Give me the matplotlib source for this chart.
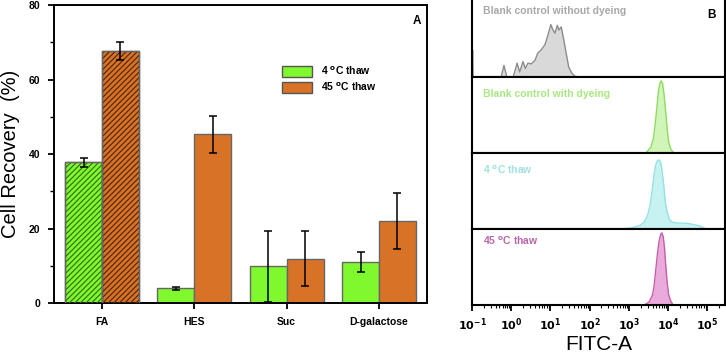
import matplotlib
matplotlib.use("Agg")
import matplotlib.pyplot as plt
import numpy as np
from matplotlib.patches import Patch
from matplotlib.ticker import LogLocator, FixedLocator, MultipleLocator, NullFormatter

plt.rcParams["font.family"] = ["Liberation Sans", "DejaVu Sans"]
plt.rcParams["hatch.linewidth"] = 0.8
plt.rcParams["mathtext.default"] = "bf"

# ---------------------------------------------------------------------------
# Panel A data: cell recovery (%)
# ---------------------------------------------------------------------------
categories = ["FA", "HES", "Suc", "D-galactose"]
thaw4_mean = [37.8, 3.9, 9.8, 11.0]
thaw4_err = [1.2, 0.45, 9.6, 2.7]
thaw45_mean = [67.7, 45.3, 11.9, 22.0]
thaw45_err = [2.4, 5.0, 7.4, 7.5]
hatched = [True, False, False, False]

# ---------------------------------------------------------------------------
# Panel B data: FITC-A histograms (log10 intensity, relative count)
# ---------------------------------------------------------------------------
blank_nodye_log = [-1.0, -0.985, -0.97, -0.26, -0.185, -0.11, 0.05, 0.15, 0.215,
                   0.30, 0.36, 0.425, 0.51, 0.61, 0.675, 0.76, 0.86, 0.94, 1.01,
                   1.065, 1.115, 1.175, 1.215, 1.275, 1.34, 1.40, 1.465, 1.55,
                   1.63, 1.72]
blank_nodye_h = [0.0, 0.35, 0.0, 0.0, 0.15, 0.0, 0.0, 0.18, 0.065,
                 0.20, 0.11, 0.18, 0.17, 0.22, 0.31, 0.35, 0.42, 0.55, 0.68,
                 0.61, 0.57, 0.67, 0.61, 0.65, 0.48, 0.31, 0.13, 0.045,
                 0.01, 0.0]

blank_dye_log = [3.43, 3.56, 3.625, 3.665, 3.71, 3.75, 3.79, 3.825, 3.86, 3.90,
                 3.94, 3.975, 4.015, 4.06, 4.14]
blank_dye_h = [0.0, 0.076, 0.19, 0.36, 0.58, 0.80, 0.92, 0.95, 0.91, 0.75,
               0.53, 0.32, 0.14, 0.06, 0.0]

thaw4_log = [-1.0, -0.98, 2.85, 3.10, 3.27, 3.39, 3.475, 3.54, 3.60, 3.64, 3.68,
             3.725, 3.765, 3.81, 3.85, 3.89, 3.93, 3.975, 4.03, 4.10, 4.225,
             4.475, 4.64, 4.81, 4.975]
thaw4_h = [0.03, 0.0, 0.0, 0.02, 0.045, 0.09, 0.18, 0.31, 0.53, 0.71, 0.84,
           0.90, 0.91, 0.88, 0.75, 0.57, 0.35, 0.22, 0.13, 0.09, 0.08,
           0.075, 0.06, 0.04, 0.0]

thaw45_log = [3.39, 3.515, 3.60, 3.64, 3.68, 3.725, 3.765, 3.81, 3.84, 3.875,
              3.91, 3.94, 3.975, 4.015, 4.06, 4.125]
thaw45_h = [0.0, 0.04, 0.13, 0.24, 0.44, 0.66, 0.83, 0.93, 0.95, 0.90,
            0.74, 0.52, 0.30, 0.13, 0.06, 0.0]

hist_labels = ["Blank control without dyeing", "Blank control with dyeing",
               "4 $^{o}$C thaw", "45 $^{o}$C thaw"]
decade_labels = ["$10^{-1}$", "$10^{0}$", "$10^{1}$", "$10^{2}$",
                 "$10^{3}$", "$10^{4}$", "$10^{5}$"]

GREEN = "#80f82e"
ORANGE = "#d87226"

fig = plt.figure(figsize=(7.26, 3.54), dpi=100)
W, H = 726.0, 354.0

# ---------------------------------------------------------------------------
# Panel A
# ---------------------------------------------------------------------------
ax = fig.add_axes([54 / W, 1 - 303 / H, 373 / W, 298 / H])
x = np.arange(len(categories))
bw = 0.4
for i in range(len(categories)):
    for off, mean, err, color, hcol in [(-bw / 2, thaw4_mean[i], thaw4_err[i], GREEN, "#2f6a10"),
                                        (bw / 2, thaw45_mean[i], thaw45_err[i], ORANGE, "#4a2308")]:
        ax.bar(x[i] + off, mean, bw, color=color, edgecolor="#666666",
               linewidth=1.0, zorder=2)
        if hatched[i]:
            ax.bar(x[i] + off, mean, bw, fill=False, hatch="//////",
                   edgecolor=hcol, linewidth=0, zorder=3)
            ax.bar(x[i] + off, mean, bw, fill=False, edgecolor="#666666",
                   linewidth=1.0, zorder=3)
        ax.errorbar(x[i] + off, mean, yerr=err, fmt="none", ecolor="black",
                    elinewidth=1.1, capsize=3, capthick=1.1, zorder=4)

ax.set_xlim(-0.52, 3.52)
ax.set_ylim(0, 80)
ax.set_xticks(x)
ax.set_xticklabels(categories, fontsize=7.5, fontweight="bold")
ax.yaxis.set_major_locator(MultipleLocator(20))
ax.yaxis.set_minor_locator(MultipleLocator(10))
for lab in ax.get_yticklabels():
    lab.set_fontweight("bold")
    lab.set_fontsize(7.5)
ax.tick_params(axis="x", length=4, width=1.3, pad=6)
ax.tick_params(axis="y", which="major", length=4, width=1.3, pad=6)
ax.tick_params(axis="y", which="minor", length=3, width=1.0)
for s in ax.spines.values():
    s.set_linewidth(1.4)
ax.set_ylabel("Cell Recovery  (%)", fontsize=14.5, labelpad=6)
ax.text(0.985, 0.965, "A", transform=ax.transAxes, ha="right", va="top",
        fontsize=8.5, fontweight="bold")

handles = [Patch(facecolor=GREEN, edgecolor="#555555", linewidth=1.0),
           Patch(facecolor=ORANGE, edgecolor="#555555", linewidth=1.0)]
ax.legend(handles, ["4 $^{o}$C thaw", "45 $^{o}$C thaw"],
          loc="upper left", bbox_to_anchor=(0.611, 0.80), frameon=False,
          borderpad=0, borderaxespad=0, handlelength=2.9, handleheight=1.35,
          labelspacing=0.3, handletextpad=0.9,
          prop={"size": 7.5, "weight": "bold"})

# ---------------------------------------------------------------------------
# Panel B
# ---------------------------------------------------------------------------
hists = [(blank_nodye_log, blank_nodye_h, "#d9d9d9", "#8c8c8c", "#a8a8a8"),
         (blank_dye_log, blank_dye_h, "#cff5b8", "#8fdc62", "#a8e880"),
         (thaw4_log, thaw4_h, "#c6f2f2", "#96e2e2", "#a0e2e2"),
         (thaw45_log, thaw45_h, "#eaaadb", "#c462a8", "#b868a8")]
edges = [0, 77, 153, 229, 305]
text_off = [11, 17, 17, 12]
xmin, xmax = 10 ** -1.0, 10 ** 5.45

for k, (lg, hh, fc, ec, tc) in enumerate(hists):
    top, bot = edges[k], edges[k + 1]
    axh = fig.add_axes([472 / W, 1 - bot / H, 253 / W, (bot - top) / H])
    xs = 10 ** np.array(lg)
    axh.fill_between(xs, 0, hh, color=fc, linewidth=0, zorder=1)
    axh.plot(xs, hh, color=ec, linewidth=1.0, zorder=2)
    axh.set_xscale("log")
    axh.set_xlim(xmin, xmax)
    axh.set_ylim(0, 1.0)
    axh.set_yticks([])
    for s in axh.spines.values():
        s.set_linewidth(1.5)
    if k == 0:
        axh.spines["top"].set_visible(False)
        fig.text(712 / W, 1 - 15 / H, "B", fontsize=8.5,
                 fontweight="bold", ha="center", va="center")
    fig.text(483 / W, 1 - (top + text_off[k]) / H, hist_labels[k], color=tc,
             fontsize=7.5, fontweight="bold", ha="left", va="center")
    if k < 3:
        axh.set_xticks([])
        axh.xaxis.set_minor_locator(FixedLocator([]))
    else:
        axh.xaxis.set_major_locator(FixedLocator(10.0 ** np.arange(-1, 6)))
        axh.set_xticklabels(decade_labels, fontsize=8)
        axh.xaxis.set_minor_locator(LogLocator(base=10, subs=np.arange(2, 10)))
        axh.xaxis.set_minor_formatter(NullFormatter())
        axh.tick_params(axis="x", which="major", length=4, width=1.3, pad=4)
        axh.tick_params(axis="x", which="minor", length=2.5, width=0.8)
        axh.set_xlabel("FITC-A", fontsize=15, labelpad=2)

fig.savefig("out.png", dpi=100)
